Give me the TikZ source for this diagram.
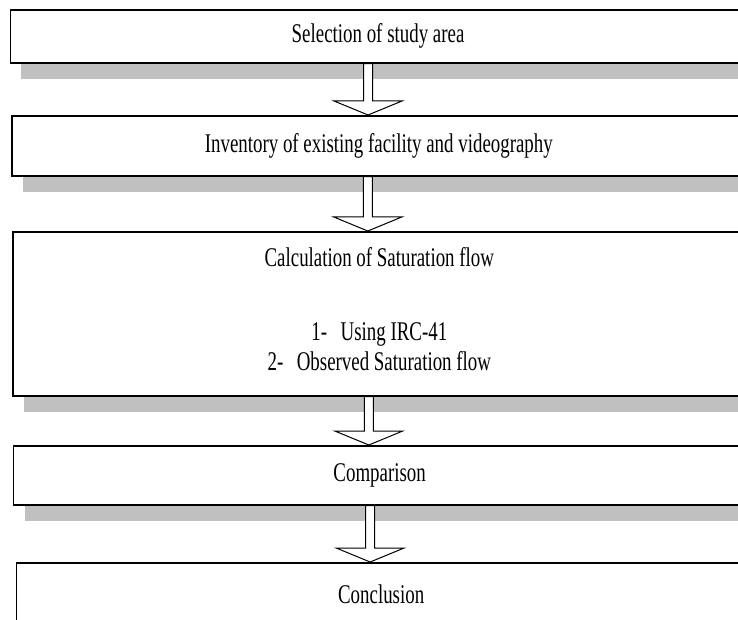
\documentclass[tikz,border=0pt]{standalone}
\usepackage{fontspec}
\setmainfont{Liberation Serif}[FakeStretch=0.7]
\usetikzlibrary{calc,shadows}
\definecolor{shadowgray}{RGB}{192,192,192}

\begin{document}
\begin{tikzpicture}[x=1pt,y=-1pt,
	stage/.style={rectangle,draw,line width=1.6pt,fill=white,anchor=north west,align=center,
		font=\fontsize{27}{30}\selectfont,
		drop shadow={shadow xshift=11pt,shadow yshift=-16pt,fill=shadowgray,opacity=1}},
	hollow/.style={draw,fill=white,line width=1pt,
		to path={let \p1=(\tikztostart), \p2=(\tikztotarget) in
			(\x1-4.5pt,\y1) -- (\x1-4.5pt,\y2+14pt) -- (\x1-34pt,\y2+14pt) -- (\x1,\y2)
			-- (\x1+34pt,\y2+14pt) -- (\x1+4.5pt,\y2+14pt) -- (\x1+4.5pt,\y1) -- cycle}}]
	\clip (0,0) rectangle (738,620);
	\node[stage,minimum width=735.5pt,minimum height=53pt] (S1) at (9.5,9) {Selection of study area};
	\node[stage,minimum width=734pt,minimum height=60pt] (S2) at (11,115) {Inventory of existing facility and videography};
	\node[stage,minimum width=733pt,minimum height=164pt,text depth=10pt] (S3) at (12,231)
		{Calculation of Saturation flow\\[44pt]1-\hspace{0.5em}Using IRC-41\\2-\hspace{0.5em}Observed Saturation flow};
	\node[stage,minimum width=732.3pt,minimum height=59pt] (S4) at (12.7,445) {Comparison};
	\node[stage,minimum width=729.3pt,minimum height=62pt] (S5) at (15.7,562) {Conclusion};
	\draw[hollow] ([xshift=-10pt]S1.south) to (S2.north);
	\draw[hollow] ([xshift=-11pt]S2.south) to (S3.north);
	\draw[hollow] ([xshift=-10.5pt]S3.south) to (S4.north);
	\draw[hollow] ([xshift=-9.5pt]S4.south) to (S5.north);
\end{tikzpicture}
\end{document}
